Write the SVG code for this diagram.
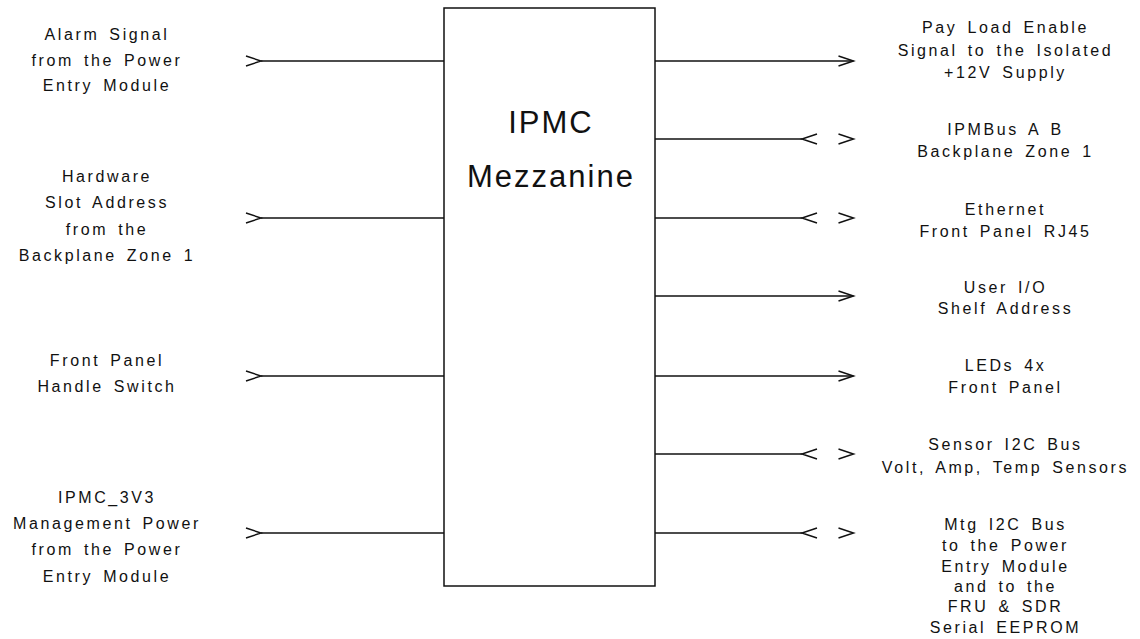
<svg xmlns="http://www.w3.org/2000/svg" xmlns:xlink="http://www.w3.org/1999/xlink" width="1140" height="639" viewBox="0 0 1140 639">
<style>
  .ln { stroke: #111; stroke-width: 1.5; fill: none; }
  .box { stroke: #111; stroke-width: 1.5; fill: #fff; }
  .lbl { font-family: "Liberation Sans", Arial, sans-serif; font-size: 16px; letter-spacing: 2.6px; word-spacing: 3px; fill: #111; text-anchor: middle; }
  .big { font-family: "Liberation Sans", Arial, sans-serif; font-size: 31px; letter-spacing: 2px; fill: #111; text-anchor: middle; }
</style>
<defs>
  <polyline id="chevR" points="-15,-5 0,0 -15,5" class="ln"/>
  <polyline id="chevL" points="15,-5 0,0 15,5" class="ln"/>
</defs>
<rect width="1140" height="639" fill="#fff"/>

<g id="ipmc-mezzanine">
  <rect class="box" x="444" y="8" width="211" height="578"/>
  <text class="big" x="551" y="133">IPMC</text>
  <text class="big" x="551" y="187">Mezzanine</text>
</g>

<g id="in-alarm">
  <text class="lbl" x="107" y="40">Alarm  Signal</text>
  <text class="lbl" x="107" y="65.5">from  the Power</text>
  <text class="lbl" x="107" y="91">Entry Module</text>
</g>
<g id="in-hw-address">
  <text class="lbl" x="107" y="181.5">Hardware</text>
  <text class="lbl" x="107" y="208">Slot Address</text>
  <text class="lbl" x="107" y="234.5">from  the</text>
  <text class="lbl" x="107" y="261">Backplane Zone 1</text>
</g>
<g id="in-handle">
  <text class="lbl" x="107" y="365.5">Front Panel</text>
  <text class="lbl" x="107" y="392">Handle Switch</text>
</g>
<g id="in-power">
  <text class="lbl" x="107" y="503">IPMC_3V3</text>
  <text class="lbl" x="107" y="529">Management Power</text>
  <text class="lbl" x="107" y="555">from  the Power</text>
  <text class="lbl" x="107" y="581.5">Entry Module</text>
</g>

<g id="out-payload">
  <text class="lbl" x="1005.5" y="33">Pay Load Enable</text>
  <text class="lbl" x="1005.5" y="55.5">Signal to the Isolated</text>
  <text class="lbl" x="1005.5" y="78">+12V Supply</text>
</g>
<g id="out-ipmbus">
  <text class="lbl" x="1005.5" y="135">IPMBus  A  B</text>
  <text class="lbl" x="1005.5" y="157">Backplane Zone 1</text>
</g>
<g id="out-ethernet">
  <text class="lbl" x="1005.5" y="215">Ethernet</text>
  <text class="lbl" x="1005.5" y="237">Front Panel RJ45</text>
</g>
<g id="out-userio">
  <text class="lbl" x="1005.5" y="293">User I/O</text>
  <text class="lbl" x="1005.5" y="313.5">Shelf Address</text>
</g>
<g id="out-leds">
  <text class="lbl" x="1005.5" y="371">LEDs 4x</text>
  <text class="lbl" x="1005.5" y="392.5">Front Panel</text>
</g>
<g id="out-sensor">
  <text class="lbl" x="1005.5" y="450">Sensor I2C  Bus</text>
  <text class="lbl" x="1005.5" y="473">Volt, Amp, Temp  Sensors</text>
</g>
<g id="out-mtg">
  <text class="lbl" x="1005.5" y="529.5">Mtg I2C  Bus</text>
  <text class="lbl" x="1005.5" y="550.5">to  the Power</text>
  <text class="lbl" x="1005.5" y="571.5">Entry Module</text>
  <text class="lbl" x="1005.5" y="592">and  to  the</text>
  <text class="lbl" x="1005.5" y="612">FRU &amp; SDR</text>
  <text class="lbl" x="1005.5" y="632.5">Serial EEPROM</text>
</g>

<g id="connectors">
  <!-- inputs -->
  <line class="ln" x1="261" y1="61" x2="444" y2="61"/>
  <use xlink:href="#chevR" x="261" y="61"/>
  <line class="ln" x1="261" y1="218" x2="444" y2="218"/>
  <use xlink:href="#chevR" x="261" y="218"/>
  <line class="ln" x1="261" y1="376" x2="444" y2="376"/>
  <use xlink:href="#chevR" x="261" y="376"/>
  <line class="ln" x1="261" y1="533" x2="444" y2="533"/>
  <use xlink:href="#chevR" x="261" y="533"/>
  <!-- outputs -->
  <line class="ln" x1="655" y1="61" x2="853.5" y2="61"/>
  <use xlink:href="#chevR" x="853.5" y="61"/>
  <line class="ln" x1="655" y1="139" x2="802" y2="139"/>
  <use xlink:href="#chevL" x="802" y="139"/>
  <use xlink:href="#chevR" x="853.5" y="139"/>
  <line class="ln" x1="655" y1="218" x2="802" y2="218"/>
  <use xlink:href="#chevL" x="802" y="218"/>
  <use xlink:href="#chevR" x="853.5" y="218"/>
  <line class="ln" x1="655" y1="296" x2="853.5" y2="296"/>
  <use xlink:href="#chevR" x="853.5" y="296"/>
  <line class="ln" x1="655" y1="376" x2="853.5" y2="376"/>
  <use xlink:href="#chevR" x="853.5" y="376"/>
  <line class="ln" x1="655" y1="454" x2="802" y2="454"/>
  <use xlink:href="#chevL" x="802" y="454"/>
  <use xlink:href="#chevR" x="853.5" y="454"/>
  <line class="ln" x1="655" y1="533" x2="802" y2="533"/>
  <use xlink:href="#chevL" x="802" y="533"/>
  <use xlink:href="#chevR" x="853.5" y="533"/>
</g>
</svg>
